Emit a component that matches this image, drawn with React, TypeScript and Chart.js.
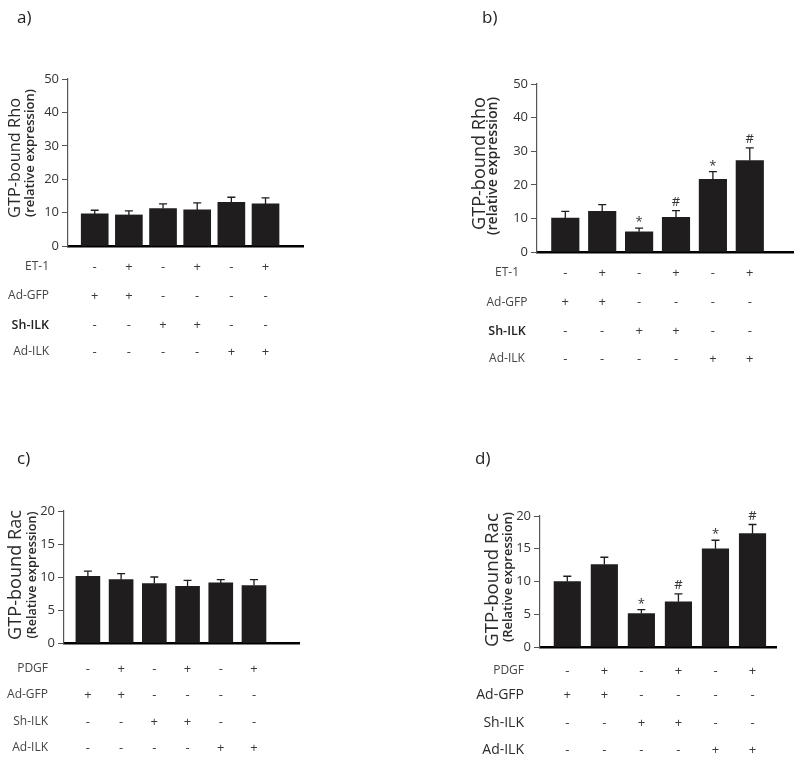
import React, { useEffect, useRef } from "react";
import { Chart, registerables } from "chart.js";

Chart.register(...registerables);

// ---------- data ----------
const conditions = ["1", "2", "3", "4", "5", "6"];
const rhoRowLabels = ["ET-1", "Ad-GFP", "Sh-ILK", "Ad-ILK"];
const racRowLabels = ["PDGF", "Ad-GFP", "Sh-ILK", "Ad-ILK"];
const stimulusSigns = ["-", "+", "-", "+", "-", "+"];
const adGfpSigns = ["+", "+", "-", "-", "-", "-"];
const shIlkSigns = ["-", "-", "+", "+", "-", "-"];
const adIlkSigns = ["-", "-", "-", "-", "+", "+"];

const rhoTicksMax = 50;
const rhoTickStep = 10;
const racTicksMax = 20;
const racTickStep = 5;

const rhoValuesA = [9.6, 9.3, 11.2, 10.8, 13.1, 12.6];
const rhoErrorsA = [1.1, 1.2, 1.4, 2.1, 1.5, 1.8];
const rhoMarksA = ["", "", "", "", "", ""];

const rhoValuesB = [10.1, 12.1, 6.0, 10.3, 21.6, 27.2];
const rhoErrorsB = [2.0, 2.0, 1.1, 2.0, 2.3, 3.8];
const rhoMarksB = ["", "", "*", "#", "*", "#"];

const racValuesC = [10.1, 9.6, 9.0, 8.6, 9.1, 8.7];
const racErrorsC = [0.8, 0.9, 1.0, 0.9, 0.5, 0.9];
const racMarksC = ["", "", "", "", "", ""];

const racValuesD = [10.0, 12.6, 5.1, 6.9, 15.0, 17.3];
const racErrorsD = [0.8, 1.1, 0.6, 1.2, 1.3, 1.4];
const racMarksD = ["", "", "*", "#", "*", "#"];

// ---------- layout / style ----------
const FONT = "'Open Sans', 'Noto Sans', 'DejaVu Sans', sans-serif";
const BAR_COLOR = "#1f1d1e";
const TEXT_COLOR = "#3a3a3a";

type RowStyle = { size: number; weight: string; color: string };

type Panel = {
  key: string;
  left: number;
  top: number;
  width: number;
  height: number;
  letter: string;
  letterX: number;
  letterY: number;
  area: { l: number; t: number; r: number; b: number };
  xMin: number;
  xMax: number;
  yMax: number;
  yStep: number;
  barThickness: number;
  values: number[];
  errors: number[];
  marks: string[];
  title: string;
  subtitle: string;
  titleX: number;
  titleY: number;
  titleLen: number;
  subtitleX: number;
  subtitleY: number;
  subtitleLen: number;
  rowLabels: string[];
  rowY: number[];
  rowLabelX: number;
  rowLabelAlign: CanvasTextAlign;
  rowStyles: RowStyle[];
};

const normalRow: RowStyle = { size: 12, weight: "normal", color: "#444" };
const darkRow: RowStyle = { size: 12.5, weight: "600", color: "#222" };
const bigRow: RowStyle = { size: 14, weight: "500", color: "#2a2a2a" };

const signRows = [stimulusSigns, adGfpSigns, shIlkSigns, adIlkSigns];

const panels: Panel[] = [
  {
    key: "a",
    left: 0,
    top: 0,
    width: 400,
    height: 380,
    letter: "a)",
    letterX: 17,
    letterY: 23,
    area: { l: 68, t: 79, r: 303, b: 246 },
    xMin: 0.218,
    xMax: 7.097,
    yMax: rhoTicksMax,
    yStep: rhoTickStep,
    barThickness: 27,
    values: rhoValuesA,
    errors: rhoErrorsA,
    marks: rhoMarksA,
    title: "GTP-bound Rho",
    subtitle: "(relative expression)",
    titleX: 15,
    titleY: 158,
    titleLen: 120,
    subtitleX: 30,
    subtitleY: 153,
    subtitleLen: 128,
    rowLabels: rhoRowLabels,
    rowY: [267, 296, 325, 352],
    rowLabelX: 49,
    rowLabelAlign: "right",
    rowStyles: [normalRow, normalRow, darkRow, normalRow],
  },
  {
    key: "b",
    left: 400,
    top: 0,
    width: 400,
    height: 380,
    letter: "b)",
    letterX: 82,
    letterY: 23,
    area: { l: 137, t: 84, r: 393, b: 252 },
    xMin: 0.233,
    xMax: 7.171,
    yMax: rhoTicksMax,
    yStep: rhoTickStep,
    barThickness: 27.5,
    values: rhoValuesB,
    errors: rhoErrorsB,
    marks: rhoMarksB,
    title: "GTP-bound Rho",
    subtitle: "(relative expression)",
    titleX: 80,
    titleY: 163.5,
    titleLen: 133,
    subtitleX: 93,
    subtitleY: 166,
    subtitleLen: 138,
    rowLabels: rhoRowLabels,
    rowY: [273, 302.5, 331, 359],
    rowLabelX: 107,
    rowLabelAlign: "center",
    rowStyles: [normalRow, normalRow, darkRow, normalRow],
  },
  {
    key: "c",
    left: 0,
    top: 380,
    width: 400,
    height: 383,
    letter: "c)",
    letterX: 17,
    letterY: 84,
    area: { l: 64, t: 131, r: 299, b: 263 },
    xMin: 0.281,
    xMax: 7.355,
    yMax: racTicksMax,
    yStep: racTickStep,
    barThickness: 24,
    values: racValuesC,
    errors: racErrorsC,
    marks: racMarksC,
    title: "GTP-bound Rac",
    subtitle: "(Relative expression)",
    titleX: 16,
    titleY: 195,
    titleLen: 130,
    subtitleX: 32,
    subtitleY: 195,
    subtitleLen: 127,
    rowLabels: racRowLabels,
    rowY: [289, 315, 342, 368],
    rowLabelX: 48,
    rowLabelAlign: "right",
    rowStyles: [normalRow, normalRow, normalRow, normalRow],
  },
  {
    key: "d",
    left: 400,
    top: 380,
    width: 400,
    height: 383,
    letter: "d)",
    letterX: 75,
    letterY: 84,
    area: { l: 140, t: 136, r: 376, b: 267 },
    xMin: 0.263,
    xMax: 6.634,
    yMax: racTicksMax,
    yStep: racTickStep,
    barThickness: 26.5,
    values: racValuesD,
    errors: racErrorsD,
    marks: racMarksD,
    title: "GTP-bound Rac",
    subtitle: "(Relative expression)",
    titleX: 93,
    titleY: 200,
    titleLen: 134,
    subtitleX: 108,
    subtitleY: 197,
    subtitleLen: 130,
    rowLabels: racRowLabels,
    rowY: [291, 315, 343, 370],
    rowLabelX: 124,
    rowLabelAlign: "right",
    rowStyles: [normalRow, bigRow, bigRow, bigRow],
  },
];

function fitFont(ctx: CanvasRenderingContext2D, text: string, weight: string, target: number) {
  ctx.font = `${weight} 20px ${FONT}`;
  const w = ctx.measureText(text).width || 1;
  const size = (20 * target) / w;
  return `${weight} ${size.toFixed(2)}px ${FONT}`;
}

function overlayPlugin(p: Panel) {
  return {
    id: "overlay-" + p.key,
    afterDatasetsDraw(chart: any) {
      const ctx: CanvasRenderingContext2D = chart.ctx;
      const ys = chart.scales.y;
      const meta = chart.getDatasetMeta(0);
      ctx.save();
      meta.data.forEach((bar: any, i: number) => {
        const x = bar.x;
        const yTop = bar.y;
        const yErr = ys.getPixelForValue(p.values[i] + p.errors[i]);
        ctx.strokeStyle = BAR_COLOR;
        ctx.lineWidth = 1.3;
        ctx.beginPath();
        ctx.moveTo(x, yTop);
        ctx.lineTo(x, yErr);
        ctx.moveTo(x - 4, yErr);
        ctx.lineTo(x + 4, yErr);
        ctx.stroke();
        const mark = p.marks[i];
        if (mark) {
          ctx.font = `13px ${FONT}`;
          ctx.fillStyle = "#333";
          ctx.textAlign = "center";
          ctx.textBaseline = "alphabetic";
          const m = ctx.measureText(mark);
          const cy = yErr - 9;
          const off = (m.actualBoundingBoxAscent - m.actualBoundingBoxDescent) / 2;
          ctx.fillText(mark, x, cy + off);
        }
      });
      ctx.restore();
    },
    afterDraw(chart: any) {
      const ctx: CanvasRenderingContext2D = chart.ctx;
      const xs = chart.scales.x;
      ctx.save();
      // panel letter
      ctx.fillStyle = "#222";
      ctx.font = `17px ${FONT}`;
      ctx.textAlign = "left";
      ctx.textBaseline = "alphabetic";
      ctx.fillText(p.letter, p.letterX, p.letterY);

      // axis titles (rotated)
      ctx.fillStyle = "#2a2a2a";
      ctx.textAlign = "center";
      ctx.textBaseline = "middle";
      ctx.save();
      ctx.translate(p.titleX, p.titleY);
      ctx.rotate(-Math.PI / 2);
      ctx.font = fitFont(ctx, p.title, "normal", p.titleLen);
      ctx.fillText(p.title, 0, 0);
      ctx.restore();
      ctx.save();
      ctx.translate(p.subtitleX, p.subtitleY);
      ctx.rotate(-Math.PI / 2);
      ctx.font = fitFont(ctx, p.subtitle, "600", p.subtitleLen);
      ctx.fillText(p.subtitle, 0, 0);
      ctx.restore();

      // treatment table
      p.rowLabels.forEach((label, r) => {
        const st = p.rowStyles[r];
        const y = p.rowY[r];
        ctx.font = `${st.weight} ${st.size}px ${FONT}`;
        ctx.fillStyle = st.color;
        ctx.textAlign = p.rowLabelAlign;
        ctx.textBaseline = "middle";
        ctx.fillText(label, p.rowLabelX, y);
        ctx.textAlign = "center";
        ctx.font = `13px ${FONT}`;
        ctx.fillStyle = TEXT_COLOR;
        signRows[r].forEach((s, i) => {
          const x = xs.getPixelForValue(i + 1);
          ctx.fillText(s, x, y);
        });
      });
      ctx.restore();
    },
  };
}

function PanelChart({ p }: { p: Panel }) {
  const ref = useRef<HTMLCanvasElement | null>(null);
  useEffect(() => {
    if (!ref.current) return;
    const chart = new Chart(ref.current, {
      type: "bar",
      data: {
        labels: conditions,
        datasets: [
          {
            data: p.values.map((v, i) => ({ x: i + 1, y: v })) as any,
            backgroundColor: BAR_COLOR,
            borderWidth: 0,
            barThickness: p.barThickness,
          },
        ],
      },
      options: {
        animation: false,
        responsive: false,
        maintainAspectRatio: false,
        layout: {
          padding: { left: 0, top: p.area.t, right: p.width - p.area.r, bottom: 0 },
        },
        plugins: {
          legend: { display: false },
          tooltip: { enabled: false },
        },
        scales: {
          x: {
            type: "linear",
            min: p.xMin,
            max: p.xMax,
            offset: false,
            grid: { display: false, drawTicks: false },
            ticks: { display: false },
            border: { display: true, color: "#000", width: 2.5 },
            afterFit: (s: any) => {
              s.height = p.height - p.area.b;
            },
          },
          y: {
            min: 0,
            max: p.yMax,
            ticks: {
              stepSize: p.yStep,
              color: "#333",
              font: { family: FONT, size: 13 },
              padding: 3,
            },
            grid: {
              drawOnChartArea: false,
              drawTicks: true,
              tickLength: 6,
              color: "#555",
              lineWidth: 1,
            },
            border: { display: true, color: "#555", width: 1.2 },
            afterFit: (s: any) => {
              s.width = p.area.l;
            },
          },
        },
      } as any,
      plugins: [overlayPlugin(p)],
    });
    return () => chart.destroy();
  }, [p]);
  return (
    <canvas
      ref={ref}
      width={p.width}
      height={p.height}
      style={{
        position: "absolute",
        left: p.left,
        top: p.top,
        width: p.width,
        height: p.height,
      }}
    />
  );
}

export default function App() {
  return (
    <div
      style={{
        position: "absolute",
        left: 0,
        top: 0,
        width: 800,
        height: 763,
        background: "#fff",
      }}
    >
      {panels.map((p) => (
        <PanelChart key={p.key} p={p} />
      ))}
    </div>
  );
}
